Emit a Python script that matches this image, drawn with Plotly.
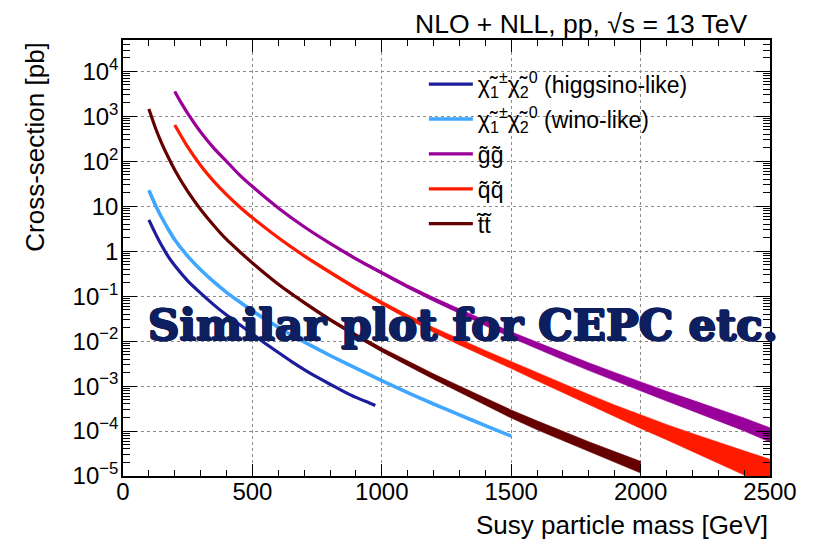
import plotly.graph_objects as go

# ---------------- data ----------------
mass_higgsino = [100, 125, 150, 175, 200, 250, 300, 350, 400, 450, 500, 550, 600,
                 650, 700, 750, 800, 850, 900, 950, 975]
xsec_higgsino = [5.0, 2.5, 1.32, 0.76, 0.48, 0.22, 0.117, 0.065, 0.038, 0.0234, 0.0145,
                 0.0089, 0.0056, 3.55e-3, 2.34e-3, 1.58e-3, 1.10e-3, 7.76e-4, 5.62e-4,
                 4.27e-4, 3.72e-4]

mass_wino = [100, 125, 150, 175, 200, 250, 300, 350, 400, 450, 500, 600, 700, 800,
             900, 1000, 1100, 1200, 1300, 1400, 1500]
xsec_wino = [22.7, 10.7, 5.56, 3.09, 1.81, 0.78, 0.387, 0.21, 0.122, 0.075, 0.047, 0.0204,
             0.0096, 0.0048, 0.0025, 0.00132, 7.2e-4, 4.0e-4, 2.3e-4, 1.32e-4, 7.7e-5]

mass_gluino = [200, 225, 250, 300, 350, 400, 450, 500, 600, 700, 800, 900, 1000, 1100,
               1200, 1300, 1400, 1500, 1600, 1700, 1800, 1900, 2000, 2100, 2200, 2300,
               2400, 2500]
xsec_gluino = [3600, 2000, 1170, 450, 200, 100, 50, 27.5, 9.2, 3.5, 1.49, 0.68, 0.33,
               0.164, 0.0856, 0.046, 0.0252, 0.0139, 8.0e-3, 4.6e-3, 2.7e-3, 1.63e-3,
               9.8e-4, 6.0e-4, 3.7e-4, 2.3e-4, 1.4e-4, 8.2e-5]
unc_dex_gluino = [0, 0, 0, 0.005, 0.008, 0.01, 0.011, 0.012, 0.015, 0.02, 0.022, 0.026,
                  0.03, 0.037, 0.044, 0.051, 0.058, 0.065, 0.072, 0.079, 0.086, 0.093,
                  0.10, 0.11, 0.12, 0.13, 0.145, 0.16]

mass_squark = [200, 250, 300, 350, 400, 450, 500, 600, 700, 800, 900, 1000, 1100, 1200,
               1300, 1400, 1500, 1600, 1700, 1800, 1900, 2000, 2100, 2200, 2300, 2400, 2500]
xsec_squark = [646, 209, 81, 36.3, 18.2, 9.8, 5.56, 2.0, 0.79, 0.339, 0.151, 0.0708,
               0.0347, 0.0178, 0.00955, 0.00525, 0.00295, 1.62e-3, 8.9e-4, 5.0e-4, 2.82e-4,
               1.62e-4, 9.5e-5, 5.6e-5, 3.3e-5, 1.95e-5, 1.15e-5]
unc_dex_squark = [0, 0, 0.005, 0.008, 0.01, 0.012, 0.015, 0.02, 0.025, 0.03, 0.035, 0.04,
                  0.048, 0.056, 0.064, 0.072, 0.08, 0.09, 0.10, 0.115, 0.13, 0.15, 0.17,
                  0.20, 0.23, 0.27, 0.31]

mass_stop = [100, 125, 150, 175, 200, 250, 300, 350, 400, 450, 500, 600, 700, 800, 900,
             1000, 1100, 1200, 1300, 1400, 1500, 1600, 1700, 1800, 1900, 2000]
xsec_stop = [1460, 560, 249, 123, 64.5, 21.5, 8.5, 3.8, 1.83, 0.99, 0.55, 0.185, 0.072,
             0.030, 0.0135, 0.0064, 0.0032, 0.00163, 8.6e-4, 4.5e-4, 2.4e-4, 1.34e-4,
             7.7e-5, 4.5e-5, 2.65e-5, 1.57e-5]
unc_dex_stop = [0, 0, 0.003, 0.004, 0.005, 0.007, 0.01, 0.012, 0.015, 0.018, 0.02, 0.025,
                0.03, 0.035, 0.04, 0.045, 0.05, 0.06, 0.07, 0.08, 0.09, 0.1, 0.105, 0.11,
                0.12, 0.13]

series_names = [
    "χ̃<sub>1</sub><sup>±</sup>χ̃<sub>2</sub><sup>0</sup> (higgsino-like)",
    "χ̃<sub>1</sub><sup>±</sup>χ̃<sub>2</sub><sup>0</sup> (wino-like)",
    "g̃g̃",
    "q̃q̃",
    "t̃t̃",
]
series_colors = ["#1c1c9c", "#3fa7ff", "#990099", "#ff1a00", "#660000"]

x_tick_vals = [0, 500, 1000, 1500, 2000, 2500]
x_tick_text = ["0", "500", "1000", "1500", "2000", "2500"]
y_tick_exps = [-5, -4, -3, -2, -1, 0, 1, 2, 3, 4]
y_tick_text = ["10<sup>−5</sup>", "10<sup>−4</sup>", "10<sup>−3</sup>", "10<sup>−2</sup>",
               "10<sup>−1</sup>", "1", "10", "10<sup>2</sup>", "10<sup>3</sup>", "10<sup>4</sup>"]

title_text = "NLO + NLL, pp, √s = 13 TeV"
x_title = "Susy particle mass [GeV]"
y_title = "Cross-section [pb]"
overlay_text = "Similar plot for CEPC etc."

# ---------------- figure ----------------
FONT = "Liberation Sans, Arial, Helvetica, sans-serif"
fig = go.Figure()

series = [
    (mass_higgsino, xsec_higgsino, None),
    (mass_wino, xsec_wino, None),
    (mass_gluino, xsec_gluino, unc_dex_gluino),
    (mass_squark, xsec_squark, unc_dex_squark),
    (mass_stop, xsec_stop, unc_dex_stop),
]

# uncertainty bands (polygons)
for (m, xs, unc), col in zip(series, series_colors):
    if unc is None:
        continue
    up = [v * 10 ** d for v, d in zip(xs, unc)]
    lo = [v / 10 ** d for v, d in zip(xs, unc)]
    fig.add_trace(go.Scatter(
        x=list(m) + list(m)[::-1], y=up + lo[::-1],
        mode="lines", fill="toself", fillcolor=col,
        line=dict(color=col, width=0.5), showlegend=False, hoverinfo="skip"))

# central lines
for i, ((m, xs, unc), col, name) in enumerate(zip(series, series_colors, series_names)):
    fig.add_trace(go.Scatter(
        x=m, y=xs, mode="lines", name=name, legendgroup=f"g{i}",
        line=dict(color=col, width=3.6 if i == 1 else 3.2, shape="spline", smoothing=0.5)))

minor_y = [d * 10.0 ** e for e in range(-5, 5) for d in range(2, 10) if d * 10.0 ** e < 5e4]
minor_x = [v for v in range(0, 2501, 100) if v % 500 != 0]

fig.update_xaxes(
    range=[0, 2500], tickmode="array", tickvals=x_tick_vals, ticktext=x_tick_text,
    ticks="inside", ticklen=12, tickwidth=1, tickcolor="black", ticklabelstandoff=-7,
    showline=True, linecolor="black", linewidth=1.5, mirror="ticks",
    showgrid=True, gridcolor="#8c8c8c", griddash="dot", gridwidth=1,
    zeroline=False, tickfont=dict(family=FONT, size=24, color="black"),
    minor=dict(tickmode="array", tickvals=minor_x, ticks="inside", ticklen=6,
               tickcolor="black", showgrid=False),
)
fig.update_yaxes(
    type="log", range=[-5, 4.70], tickmode="array",
    tickvals=[10.0 ** e for e in y_tick_exps], ticktext=y_tick_text,
    ticks="inside", ticklen=14, tickwidth=1, tickcolor="black", ticklabelstandoff=-2,
    showline=True, linecolor="black", linewidth=1.5, mirror="ticks",
    showgrid=True, gridcolor="#8c8c8c", griddash="dot", gridwidth=1,
    zeroline=False, tickfont=dict(family=FONT, size=24, color="black"),
    minor=dict(tickmode="array", tickvals=minor_y, ticks="inside", ticklen=7,
               tickcolor="black", showgrid=False),
)

fig.add_annotation(text=title_text, xref="paper", yref="paper", x=0.968, y=1.0367,
                   xanchor="right", yanchor="middle", showarrow=False, borderpad=0,
                   font=dict(family=FONT, size=26.5, color="black"))
fig.add_annotation(text=x_title, xref="paper", yref="paper", x=1.0, y=-0.1124,
                   xanchor="right", yanchor="middle", showarrow=False,
                   font=dict(family=FONT, size=26, color="black"))
fig.add_annotation(text=y_title, xref="paper", yref="paper", x=-0.1365, y=1.0,
                   xanchor="center", yanchor="top", textangle=-90, showarrow=False,
                   font=dict(family=FONT, size=26, color="black"))
NAVY = "#0d1f5e"
fig.add_annotation(text="<b>" + overlay_text + "</b>", xref="paper", yref="paper",
                   x=0.036, y=0.347, xanchor="left", yanchor="middle", showarrow=False,
                   font=dict(family="DejaVu Serif, serif", size=43.5, color=NAVY,
                             shadow=f"1px 0 0 {NAVY}, -1px 0 0 {NAVY}, 0 1px 0 {NAVY}, "
                                    f"0 -1px 0 {NAVY}, 1px 1px 0 {NAVY}, -1px -1px 0 {NAVY}"))

fig.update_layout(
    width=801, height=539,
    margin=dict(l=115, r=34, t=32, b=71),
    paper_bgcolor="white", plot_bgcolor="white",
    legend=dict(x=0.465, y=0.948, xanchor="left", yanchor="top",
                bgcolor="rgba(0,0,0,0)", borderwidth=0, itemwidth=44,
                tracegroupgap=2,
                font=dict(family=FONT, size=23, color="black")),
    showlegend=True,
)

fig.write_html("out.html")
